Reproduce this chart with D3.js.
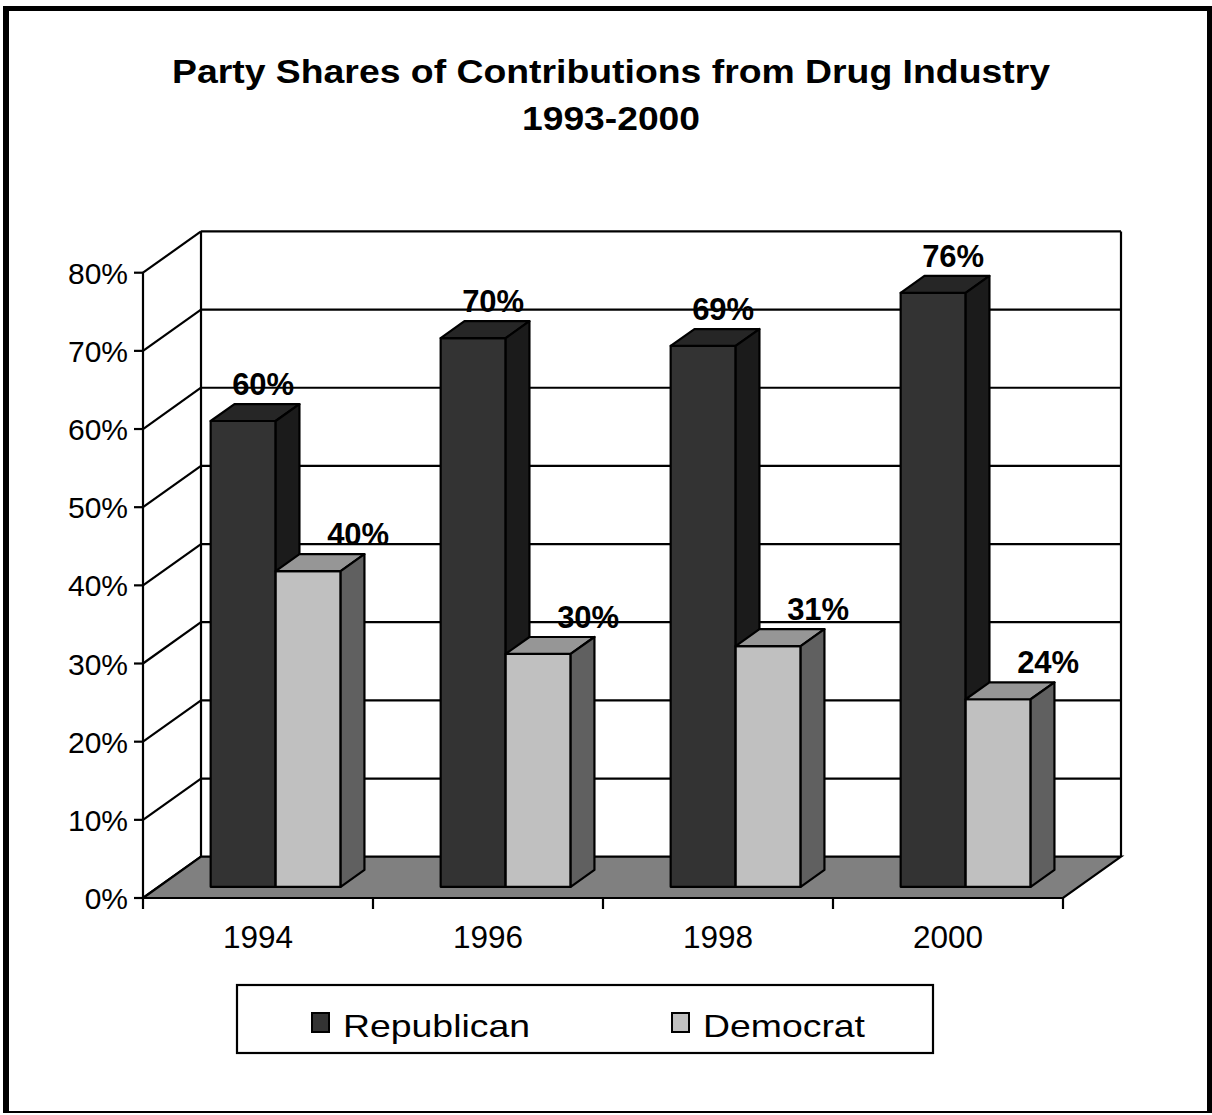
<!DOCTYPE html>
<html><head><meta charset="utf-8">
<script src="https://cdn.jsdelivr.net/npm/d3@7"></script>
<style>body{margin:0;background:#fff}svg{display:block}</style>
</head><body>
<script>
const years = ["1994","1996","1998","2000"];
const series = ["Republican","Democrat"];
const republican = [59.6, 70.2, 69.2, 76.0];
const democrat = [40.4, 29.8, 30.8, 24.0];
const repLabels = ["60%","70%","69%","76%"];
const demLabels = ["40%","30%","31%","24%"];
const yTicks = [0,10,20,30,40,50,60,70,80];
const titleLines = ["Party Shares of Contributions from Drug Industry","1993-2000"];

const W=1212,H=1115;
const svg=d3.select("body").append("svg").attr("width",W).attr("height",H)
  .attr("font-family","'Liberation Sans', Arimo, Arial, Helvetica, sans-serif");

// frame
svg.append("rect").attr("x",3).attr("y",6).attr("width",6).attr("height",1107).attr("fill","#000");
svg.append("rect").attr("x",3).attr("y",6).attr("width",1209).attr("height",5).attr("fill","#000");
svg.append("rect").attr("x",1207).attr("y",6).attr("width",5).attr("height",1107).attr("fill","#000");
svg.append("rect").attr("x",3).attr("y",1111).attr("width",1209).attr("height",2).attr("fill","#000");

// title (reference glyphs are horizontally wide)
const titleLen=[878,178];
svg.append("g").selectAll("text").data(titleLines).join("text")
  .attr("x",611).attr("y",(d,i)=>83+i*47).attr("text-anchor","middle")
  .attr("font-size",34).attr("font-weight","bold")
  .attr("textLength",(d,i)=>titleLen[i]).attr("lengthAdjust","spacingAndGlyphs").text(d=>d);

// geometry
const X0=143, DX=58, DY=-41.3;
const x = d3.scaleBand().domain(years).range([X0, X0+920]);
const xs = d3.scaleBand().domain(series).range([52,182]);
const y = d3.scaleLinear().domain([0,80]).range([898,272.7]);
const px=(xx,d)=>xx+DX*d, py=(yy,d)=>yy+DY*d;

const g=svg.append("g");
const ln=(x1,y1,x2,y2)=>g.append("line").attr("x1",x1).attr("y1",y1).attr("x2",x2).attr("y2",y2).attr("stroke","#000").attr("stroke-width",2.2);

// walls gridlines
yTicks.forEach(t=>{
  const yy=y(t);
  ln(X0,yy,px(X0,1),py(yy,1));
  if(t>0) ln(px(X0,1),py(yy,1),px(X0+920,1),py(yy,1));
});
ln(X0,y(0),X0,y(80));
ln(px(X0,1),py(y(0),1),px(X0,1),py(y(80),1));
ln(px(X0+920,1),py(y(0),1),px(X0+920,1),py(y(80),1));

// floor
const f0=y(0);
g.append("polygon").attr("points",[[X0,f0],[X0+920,f0],[px(X0+920,1),py(f0,1)],[px(X0,1),py(f0,1)]].map(p=>p.join(",")).join(" "))
 .attr("fill","#808080").attr("stroke","#000").attr("stroke-width",2.2).attr("stroke-linejoin","miter");

// y axis ticks & labels
yTicks.forEach(t=>{
  ln(X0-9,y(t),X0,y(t));
  g.append("text").attr("x",X0-15).attr("y",y(t)+11).attr("text-anchor","end").attr("font-size",30).text(t+"%");
});
// x axis ticks & labels
const xt=[...years.map(d=>x(d)), X0+920];
xt.forEach(v=>ln(v,f0,v,f0+11));
years.forEach(d=>g.append("text").attr("x",x(d)+x.bandwidth()/2).attr("y",948).attr("text-anchor","middle").attr("font-size",31.5).text(d));

// bars
const d0=0.27, d1=0.68;
const cols={Republican:{front:"#333333",top:"#262626",side:"#1b1b1b"},Democrat:{front:"#c0c0c0",top:"#969696",side:"#606060"}};
const bars=[];
years.forEach((yr,i)=>{
  bars.push({yr,s:"Republican",v:republican[i],lab:repLabels[i],loff:20});
  bars.push({yr,s:"Democrat",v:democrat[i],lab:demLabels[i],loff:50});
});
const poly=(pts,fill)=>g.append("polygon").attr("points",pts.map(p=>p.join(",")).join(" ")).attr("fill",fill).attr("stroke","#000").attr("stroke-width",2.2).attr("stroke-linejoin","round");
bars.forEach(b=>{
  const xl=x(b.yr)+xs(b.s), xr=xl+xs.bandwidth();
  const yt=y(b.v), yb=y(0);
  const c=cols[b.s];
  poly([[px(xl,d0),py(yt,d0)],[px(xr,d0),py(yt,d0)],[px(xr,d0),py(yb,d0)],[px(xl,d0),py(yb,d0)]],c.front);
  poly([[px(xl,d0),py(yt,d0)],[px(xr,d0),py(yt,d0)],[px(xr,d1),py(yt,d1)],[px(xl,d1),py(yt,d1)]],c.top);
  poly([[px(xr,d0),py(yt,d0)],[px(xr,d1),py(yt,d1)],[px(xr,d1),py(yb,d1)],[px(xr,d0),py(yb,d0)]],c.side);
  b.cx=px((xl+xr)/2,d0)+b.loff; b.ty=py(yt,d0)-26;
});
bars.forEach(b=>g.append("text").attr("x",b.cx).attr("y",b.ty).attr("text-anchor","middle").attr("font-size",31).attr("font-weight","bold").text(b.lab));

// legend
const lg=svg.append("g");
lg.append("rect").attr("x",237).attr("y",985).attr("width",696).attr("height",68).attr("fill","#fff").attr("stroke","#000").attr("stroke-width",2.2);
const legX=[312,672], legLen=[187,162];
series.forEach((s,i)=>{
  lg.append("rect").attr("x",legX[i]).attr("y",1013).attr("width",17).attr("height",19).attr("fill",cols[s].front).attr("stroke","#000").attr("stroke-width",2);
  lg.append("text").attr("x",legX[i]+31).attr("y",1037).attr("font-size",32)
    .attr("textLength",legLen[i]).attr("lengthAdjust","spacingAndGlyphs").text(s);
});
</script>
</body></html>
